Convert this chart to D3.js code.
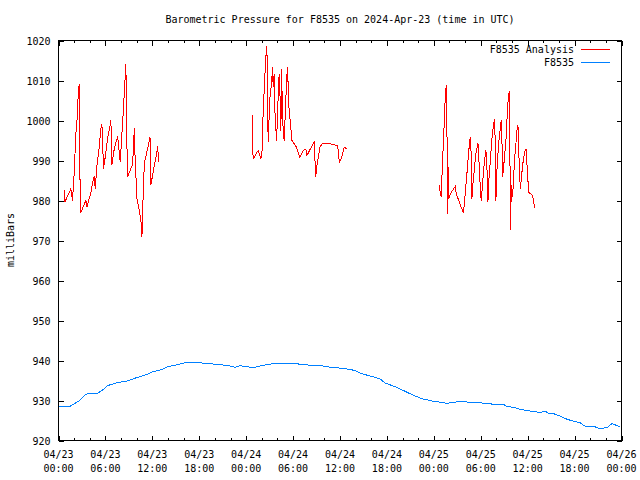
<!DOCTYPE html>
<html><head><meta charset="utf-8">
<script src="https://cdn.jsdelivr.net/npm/d3@7"></script>
<style>
body{margin:0;background:#fff;}
text{font-family:"DejaVu Sans Mono",monospace;font-size:10px;fill:#000;}
</style></head>
<body>
<svg id="chart" width="640" height="480"></svg>
<script>
const titleText = "Barometric Pressure for F8535 on 2024-Apr-23 (time in UTC)";
const yLabel = "milliBars";
const startISO = "2024-04-23T00:00:00Z";
const spanHours = 72;
const yTicks = [920,930,940,950,960,970,980,990,1000,1010,1020];
const seriesNames = ["F8535 Analysis","F8535"];
const seriesColors = ["#ff0000","#0080ff"];

// hours since start, value (null = gap)
const analysisHours = [0.73,0.81,1.58,1.79,2.01,2.22,2.43,2.52,2.65,2.69,2.78,2.86,3.07,3.50,3.63,4.14,4.36,4.57,4.70,4.91,5.21,5.42,5.55,5.76,6.06,6.28,6.62,6.70,6.83,7.14,7.56,7.90,8.20,8.33,8.49,8.62,8.71,8.84,9.48,9.70,9.77,10.03,10.34,10.54,10.67,10.80,10.98,11.18,11.62,11.70,11.82,12.26,12.55,12.68,12.81,
 18.0,
 24.76,24.81,24.89,25.53,25.88,26.04,26.17,26.39,26.52,26.65,26.74,26.81,26.90,27.03,27.25,27.38,27.45,27.58,27.67,27.89,28.09,28.22,28.31,28.44,28.53,28.66,28.86,29.04,29.17,29.30,29.43,29.59,29.85,30.45,30.66,30.87,31.30,31.64,31.77,32.37,32.71,32.80,32.89,33.01,33.44,33.73,34.72,35.27,35.70,35.91,36.22,36.55,36.86,
 42.0,
 48.68,48.81,48.94,49.10,49.23,49.45,49.58,49.71,49.74,49.80,49.87,50.22,50.73,50.86,51.79,52.01,52.23,52.43,52.56,52.65,52.78,52.87,53.00,53.38,53.64,53.72,53.93,54.06,54.36,54.48,54.66,54.79,54.92,55.00,55.21,55.43,55.64,55.77,55.86,55.94,56.07,56.28,56.50,56.62,56.71,56.79,57.04,57.22,57.35,57.48,57.65,57.74,57.82,57.90,58.07,58.33,58.55,58.63,58.76,58.84,58.97,59.06,59.35,59.61,59.79,59.92,60.05,60.06,60.34,60.63,60.76,60.88];
const analysisValues = [982.5,979.6,982.9,980,987,996.7,1001.7,1006.7,1009,998,979,977,978,980,978.3,982,984.6,986,983,988.7,993.3,998,999,988,992,995.5,999,1000,989,993,996,989.6,999.6,1003.7,1009.6,1014,997.5,986,989,998,992,980.5,977.5,975,970.8,979.6,989.6,991,995,995.8,984,988.75,991.7,993.7,989.6,
 null,
 1001.25,995.8,990.4,992.5,990.4,992.5,1002,1011,1016,1018.5,1006.7,994.6,999,1005.4,1009.6,1013.3,1008.3,1011.7,1002.5,995,1005.8,1011.7,1007.5,997.5,1012.9,1000,995,1003.3,1010.4,1013.3,1004.2,1000.8,995,993.3,992,990.8,992.5,992.9,991.25,993.5,994.6,990,985.8,988.3,993.3,994.3,994.2,993.9,993.7,989.6,990.8,993.3,992.9,
 null,
 983.75,982.1,980.8,989.2,994.6,1005.4,1008.75,992.5,976.7,990,980.4,982,983.5,981.7,976.8,981.7,986.7,991.7,994.2,995.8,991.7,980.4,984.2,991.8,994.3,992,983.75,979.8,987.5,990,992.5,988.3,979.6,984.2,989.6,995.4,999.2,1000.4,993.75,980,987.5,994.2,997.9,1000,995,985.8,990.8,995,1000,1004.6,1007.3,989.2,972.7,983.75,980.8,990.4,995.4,997.5,998.75,993.3,986.7,982.9,988.75,992.25,992.9,988.75,984.6,982.1,981.7,981.25,980,978.2];

const stationHours = [0,1.41,2.05,2.69,3.33,3.75,4.96,5.68,6.32,7.08,7.60,8.88,9.95,11.02,12.08,13.16,14.00,14.86,16.05,18.28,19.13,19.98,20.84,21.69,22.55,23.19,24.05,24.89,25.97,27.03,28.09,29.37,31.09,32.37,34.08,34.93,36.00,36.86,37.92,38.78,39.62,40.48,41.12,41.76,42.62,43.47,44.32,45.18,46.03,46.67,47.31,47.95,48.81,49.67,50.73,51.88,52.65,53.93,55.00,55.64,56.92,57.35,58.20,59.06,59.92,60.76,61.62,62.26,62.68,63.32,64.18,65.04,65.89,66.74,67.38,68.66,69.09,70.16,70.80,71.45,71.78];
const stationValues = [928.5,928.5,929.2,930,931.25,931.75,931.75,932.7,933.75,934.2,934.5,934.9,935.7,936.3,937.2,937.7,938.5,938.8,939.4,939.4,939.2,939.1,938.9,938.75,938.3,938.7,938.5,938.2,938.7,939.1,939.3,939.2,939.1,938.75,938.6,938.25,938.1,937.9,937.5,936.7,936.25,935.8,935.4,934.4,933.75,933.1,932.3,931.5,930.8,930.3,930.1,929.75,929.6,929.3,929.6,929.8,929.4,929.4,929.3,929,929,928.5,928.3,927.8,927.5,927.25,927,927.3,926.8,926.7,926.1,925.3,924.8,924.4,923.5,923.4,923,923.2,924.25,923.7,923.4];

const t0 = new Date(startISO).getTime();
const toDate = h => new Date(t0 + h*3600e3);

const svg = d3.select("#chart");
const L = 58.5, R = 621.5, T = 40.5, B = 440.5;
const x = d3.scaleUtc().domain([toDate(0), toDate(spanHours)]).range([L, R]);
const y = d3.scaleLinear().domain([920,1020]).range([B, T]);

const majorX = d3.range(0, spanHours+1, 6).map(toDate);
const minorX = d3.range(0, spanHours+1, 2).filter(h => h % 6 !== 0).map(toDate);

function clean(g){ g.select(".domain").remove(); g.selectAll("line").attr("stroke","#000").attr("shape-rendering","crispEdges"); }

// y axes
svg.append("g").attr("transform",`translate(${L},0)`)
  .call(d3.axisLeft(y).tickValues(yTicks).tickSize(-5).tickPadding(8).tickFormat(d3.format("d")))
  .call(clean)
  .call(g => g.selectAll("text").attr("font-size",null).attr("font-family",null).attr("dy","0.35em"));
svg.append("g").attr("transform",`translate(${R},0)`)
  .call(d3.axisRight(y).tickValues(yTicks).tickSize(-5).tickFormat(""))
  .call(clean);

// x axes
svg.append("g").attr("transform",`translate(0,${B})`)
  .call(d3.axisBottom(x).tickValues(majorX).tickSize(-5).tickFormat(""))
  .call(clean);
svg.append("g").attr("transform",`translate(0,${B})`)
  .call(d3.axisBottom(x).tickValues(minorX).tickSize(-2.5).tickFormat(""))
  .call(clean);
svg.append("g").attr("transform",`translate(0,${T})`)
  .call(d3.axisTop(x).tickValues(majorX).tickSize(-5).tickFormat(""))
  .call(clean);
svg.append("g").attr("transform",`translate(0,${T})`)
  .call(d3.axisTop(x).tickValues(minorX).tickSize(-2.5).tickFormat(""))
  .call(clean);

const fDate = d3.utcFormat("%m/%d"), fTime = d3.utcFormat("%H:%M");
const xl = svg.append("g").selectAll("text").data(majorX).join("text")
  .attr("text-anchor","middle");
xl.append("tspan").attr("x", d => x(d)).attr("y", 458).text(fDate);
xl.append("tspan").attr("x", d => x(d)).attr("y", 472).text(fTime);

// frame
svg.append("rect").attr("x",L).attr("y",T).attr("width",R-L).attr("height",B-T)
  .attr("fill","none").attr("stroke","#000").attr("shape-rendering","crispEdges");

// title and y label
svg.append("text").attr("x",(L+R)/2).attr("y",23).attr("text-anchor","middle").text(titleText);
svg.append("text").attr("transform","translate(14,240) rotate(-90)").attr("text-anchor","middle").text(yLabel);

// lines
const line = d3.line().defined(d => d[1] != null).x(d => x(toDate(d[0]))).y(d => y(d[1]));
const analysisData = analysisHours.map((h,i) => [h, analysisValues[i]]);
const stationData = stationHours.map((h,i) => [h, stationValues[i]]);
svg.append("path").datum(analysisData).attr("d", line)
  .attr("fill","none").attr("stroke",seriesColors[0]).attr("stroke-width",1)
  .attr("shape-rendering","crispEdges");
svg.append("path").datum(stationData).attr("d", line)
  .attr("fill","none").attr("stroke",seriesColors[1]).attr("stroke-width",1)
  .attr("shape-rendering","crispEdges");

// legend
const lg = svg.append("g");
seriesNames.forEach((n,i) => {
  const yy = 49.5 + i*13;
  lg.append("text").attr("x",574).attr("y",yy).attr("dy","0.35em").attr("text-anchor","end").text(n);
  lg.append("line").attr("x1",581).attr("x2",610).attr("y1",yy).attr("y2",yy)
    .attr("stroke",seriesColors[i]).attr("shape-rendering","crispEdges");
});
</script>
</body></html>
